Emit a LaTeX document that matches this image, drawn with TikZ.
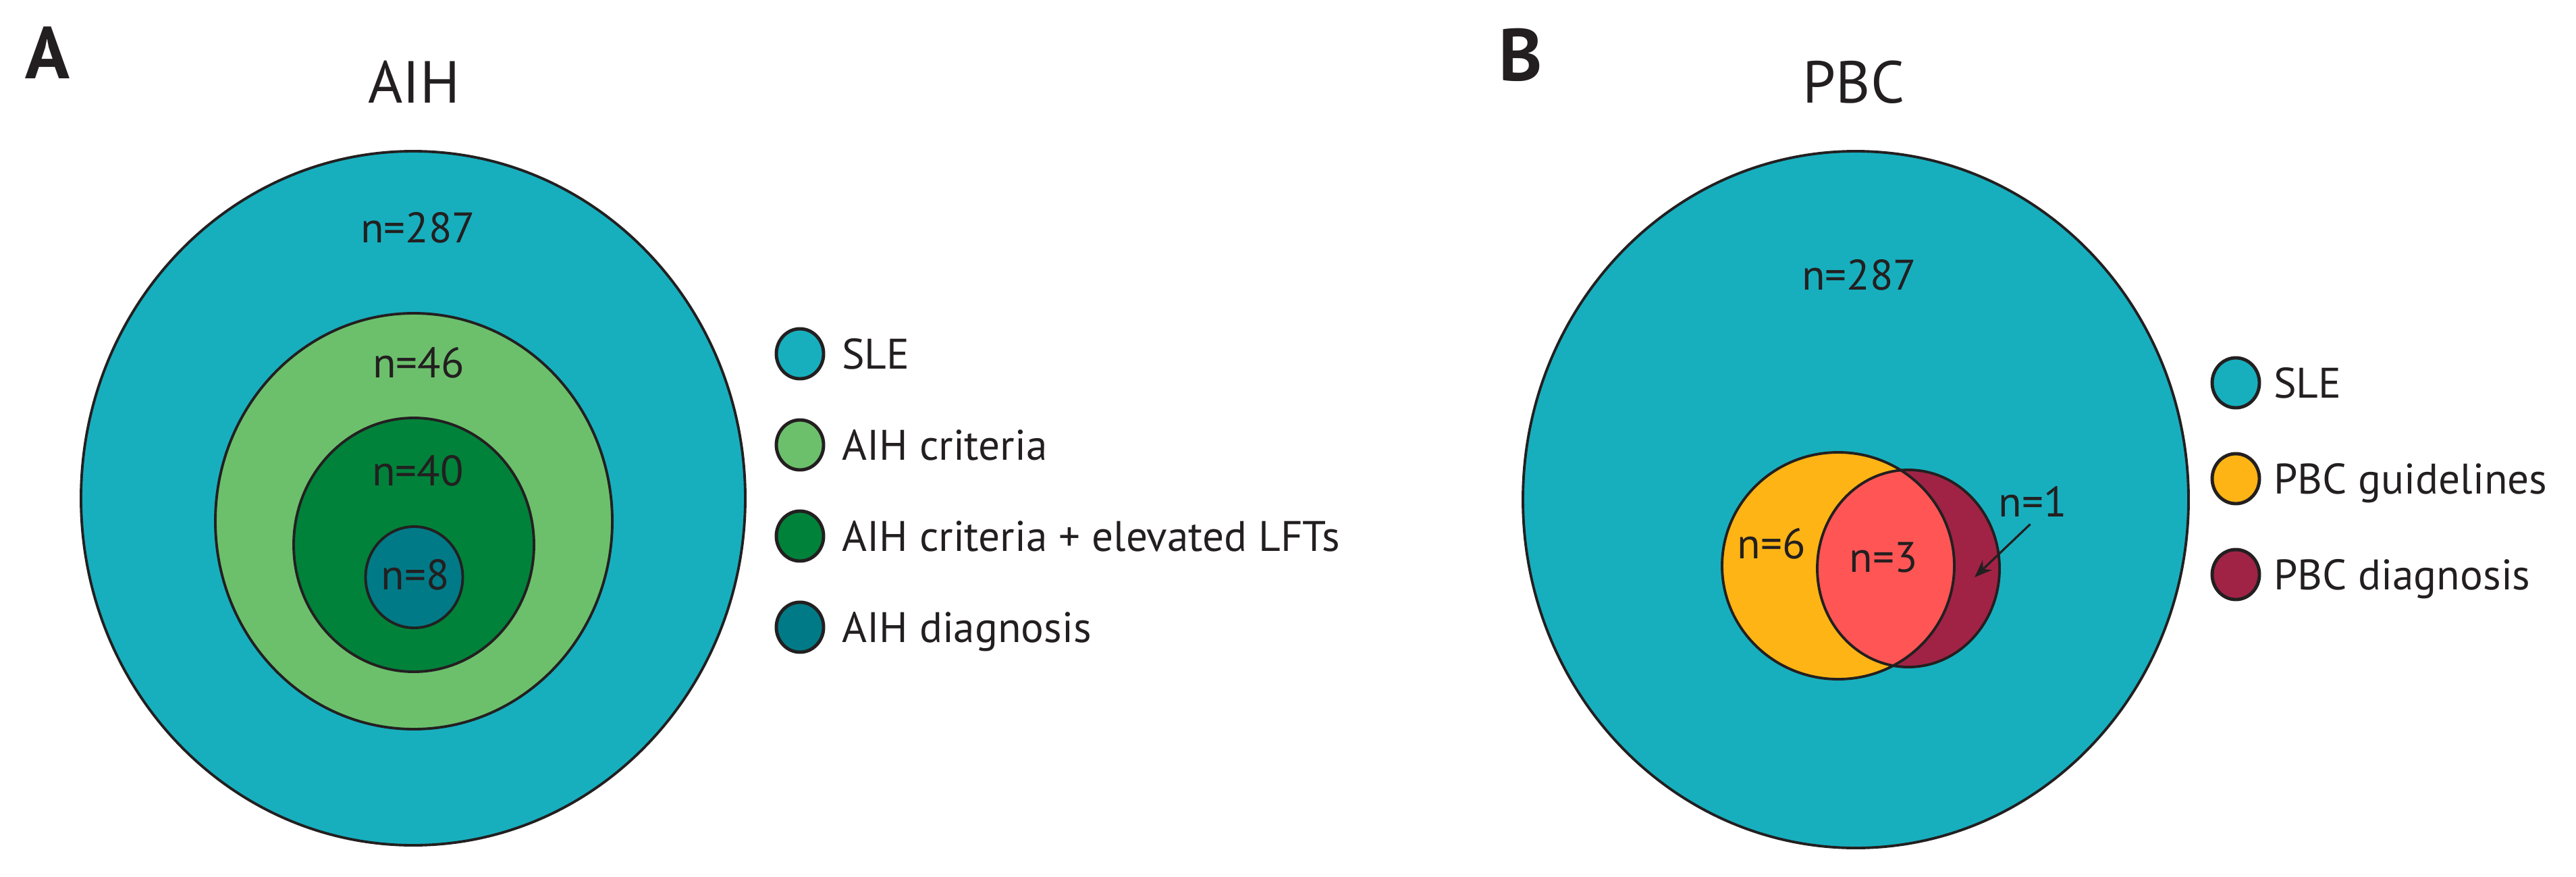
\documentclass[tikz,border=0pt]{standalone}
\usepackage{fontspec}
\setmainfont{PT Sans}
\usepackage{tikz}
\usetikzlibrary{shapes.geometric, arrows.meta, positioning}
\definecolor{slefill}{RGB}{23,175,190}
\definecolor{critfill}{RGB}{108,192,108}
\definecolor{lftfill}{RGB}{0,130,58}
\definecolor{diagfill}{RGB}{0,122,135}
\definecolor{guidefill}{RGB}{253,180,20}
\definecolor{overlapfill}{RGB}{255,85,85}
\definecolor{pbcfill}{RGB}{160,35,70}
\definecolor{inkline}{RGB}{35,31,32}
\tikzset{
    venn/.style={
        draw=inkline,
        line width=1.1pt
    },
    panel/.style={
        font=\fontsize{31}{34}\selectfont\bfseries,
        text=inkline,
        inner sep=0pt,
        text height=21.7pt,
        text depth=0pt
    },
    title/.style={
        font=\fontsize{25}{28}\selectfont,
        text=inkline,
        inner sep=0pt,
        text height=17.5pt,
        text depth=0pt
    },
    countlabel/.style={
        font=\fontsize{18}{20}\selectfont,
        text=inkline,
        inner sep=0pt,
        text height=12.6pt,
        text depth=0pt
    },
    legdot/.style={
        ellipse,
        draw=inkline,
        line width=1.4pt,
        minimum width=0.70cm,
        minimum height=0.74cm,
        inner sep=0pt
    },
    legtext/.style={
        countlabel,
        anchor=west
    },
    pointer/.style={
        draw=inkline,
        line width=0.9pt,
        -{Stealth[length=0.26cm, width=0.2cm]}
    }
}

\begin{document}
\begin{tikzpicture}

\useasboundingbox (0,0) rectangle (38.16,-12.99);

% Panel A
\node[panel] (labA) at (0.705,-0.785) {A};
\node[title] (titleA) at (6.135,-1.22) {AIH};

\draw[venn, fill=slefill] (6.12,-7.38) ellipse [x radius=4.92cm, y radius=5.14cm];
\draw[venn, fill=critfill] (6.13,-7.72) ellipse [x radius=2.94cm, y radius=3.08cm];
\draw[venn, fill=lftfill] (6.13,-8.07) ellipse [x radius=1.78cm, y radius=1.88cm];
\draw[venn, fill=diagfill] (6.135,-8.55) ellipse [x radius=0.72cm, y radius=0.75cm];

\node[countlabel] (nA287) at (6.19,-3.37) {n=287};
\node[countlabel] (nA46) at (6.20,-5.37) {n=46};
\node[countlabel] (nA40) at (6.19,-6.97) {n=40};
\node[countlabel] (nA8) at (6.15,-8.51) {n=8};

% Legend A
\foreach \col/\txt [count=\i] in {slefill/SLE, critfill/AIH criteria, lftfill/AIH criteria + elevated LFTs, diagfill/AIH diagnosis} {
    \node[legdot, fill=\col] (legA\i) at (11.85,-3.89-1.35*\i) {};
    \node[legtext, right=0.24cm of legA\i] (legAtxt\i) {\txt};
}

% Panel B
\node[panel] (labB) at (22.525,-0.81) {B};
\node[title] (titleB) at (27.46,-1.22) {PBC};

\draw[venn, fill=slefill] (27.49,-7.40) ellipse [x radius=4.93cm, y radius=5.16cm];

% Overlap
\fill[guidefill] (27.23,-8.38) ellipse [x radius=1.72cm, y radius=1.68cm];
\fill[pbcfill] (28.27,-8.42) ellipse [x radius=1.35cm, y radius=1.46cm];
\begin{scope}
    \clip (27.23,-8.38) ellipse [x radius=1.72cm, y radius=1.68cm];
    \fill[overlapfill] (28.27,-8.42) ellipse [x radius=1.35cm, y radius=1.46cm];
\end{scope}
\draw[venn] (27.23,-8.38) ellipse [x radius=1.72cm, y radius=1.68cm];
\draw[venn] (28.27,-8.42) ellipse [x radius=1.35cm, y radius=1.46cm];

\node[countlabel] (nB287) at (27.54,-4.07) {n=287};
\node[countlabel] (nB6) at (26.24,-8.05) {n=6};
\node[countlabel] (nB3) at (27.90,-8.25) {n=3};
\node[countlabel] (nB1) at (30.11,-7.43) {n=1};

\coordinate (pbconly) at (29.25,-8.55);
\draw[pointer] ([xshift=-1pt, yshift=-3pt]nB1.south) -- (pbconly);

% Legend B
\foreach \col/\txt [count=\i] in {slefill/SLE, guidefill/PBC guidelines, pbcfill/PBC diagnosis} {
    \node[legdot, fill=\col] (legB\i) at (33.12,-4.25-1.42*\i) {};
    \node[legtext, right=0.18cm of legB\i] (legBtxt\i) {\txt};
}

\end{tikzpicture}
\end{document}
